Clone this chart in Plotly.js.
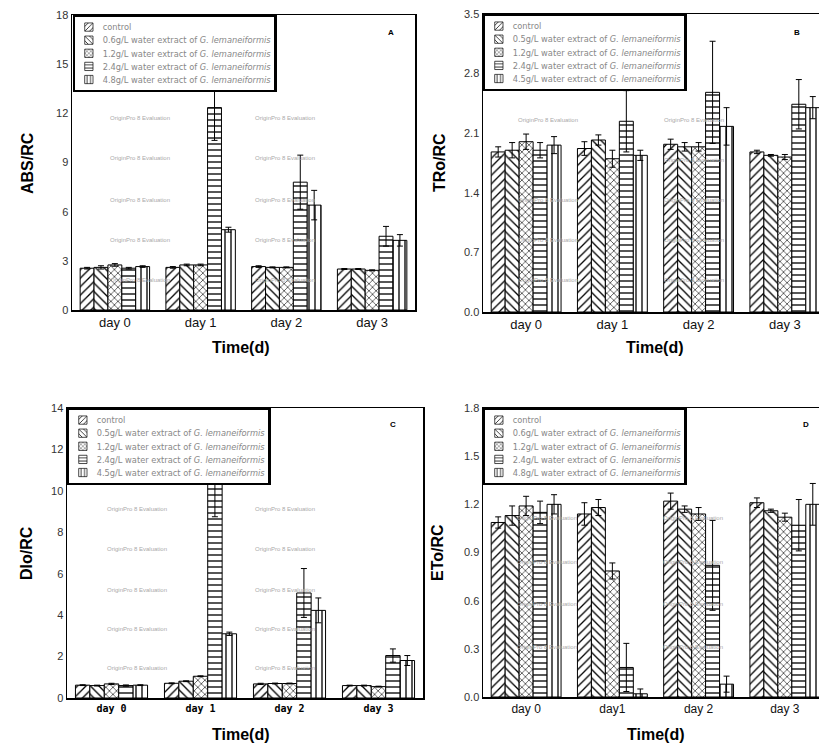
<!DOCTYPE html>
<html>
<head>
<meta charset="utf-8">
<script src="https://cdn.plot.ly/plotly-3.0.1.min.js"></script>
<style>html,body{margin:0;padding:0;background:#fff;}#chart{width:819px;height:749px;}</style>
</head>
<body>
<div id="chart"></div>
<script>
// ---------- categories ----------
const daysA = ['day 0', 'day 1', 'day 2', 'day 3'];
const daysB = ['day 0', 'day 1', 'day 2', 'day 3'];
const daysC = ['day 0', 'day 1', 'day 2', 'day 3'];
const daysD = ['day 0', 'day1', 'day 2', 'day 3'];

// ---------- legend names ----------
const namesAD = ['control',
  '0.6g/L water extract of <i>G. lemaneiformis</i>',
  '1.2g/L water extract of <i>G. lemaneiformis</i>',
  '2.4g/L water extract of <i>G. lemaneiformis</i>',
  '4.8g/L water extract of <i>G. lemaneiformis</i>'];
const namesBC = ['control',
  '0.5g/L water extract of <i>G. lemaneiformis</i>',
  '1.2g/L water extract of <i>G. lemaneiformis</i>',
  '2.4g/L water extract of <i>G. lemaneiformis</i>',
  '4.5g/L water extract of <i>G. lemaneiformis</i>'];

// ---------- A: ABS/RC ----------
const absControl = [2.55, 2.6, 2.65, 2.5];
const absG06 = [2.6, 2.75, 2.6, 2.5];
const absG12 = [2.75, 2.75, 2.6, 2.42];
const absG24 = [2.55, 12.35, 7.8, 4.5];
const absG48 = [2.65, 4.9, 6.4, 4.25];
const absControlErr = [0.05, 0.05, 0.05, 0.03];
const absG06Err = [0.1, 0.05, 0.03, 0.03];
const absG12Err = [0.08, 0.05, 0.03, 0.03];
const absG24Err = [0.05, 2.0, 1.65, 0.6];
const absG48Err = [0.05, 0.15, 0.9, 0.35];

// ---------- B: TRo/RC ----------
const troControl = [1.88, 1.92, 1.97, 1.88];
const troG06 = [1.90, 2.02, 1.94, 1.84];
const troG12 = [2.0, 1.80, 1.94, 1.82];
const troG24 = [1.90, 2.24, 2.58, 2.44];
const troG48 = [1.96, 1.84, 2.18, 2.40];
const troControlErr = [0.06, 0.08, 0.06, 0.02];
const troG06Err = [0.09, 0.06, 0.05, 0.01];
const troG12Err = [0.09, 0.1, 0.05, 0.03];
const troG24Err = [0.09, 0.36, 0.6, 0.29];
const troG48Err = [0.1, 0.06, 0.22, 0.13];

// ---------- C: DIo/RC ----------
const dioControl = [0.62, 0.71, 0.68, 0.6];
const dioG06 = [0.6, 0.81, 0.7, 0.6];
const dioG12 = [0.68, 1.05, 0.7, 0.55];
const dioG24 = [0.6, 10.33, 5.07, 2.05];
const dioG48 = [0.62, 3.1, 4.23, 1.81];
const dioControlErr = [0.02, 0.02, 0.03, 0.02];
const dioG06Err = [0.02, 0.02, 0.02, 0.02];
const dioG12Err = [0.03, 0.02, 0.02, 0.02];
const dioG24Err = [0.03, 1.58, 1.18, 0.32];
const dioG48Err = [0.02, 0.08, 0.6, 0.24];

// ---------- D: ETo/RC ----------
const etoControl = [1.087, 1.14, 1.22, 1.21];
const etoG06 = [1.13, 1.18, 1.17, 1.16];
const etoG12 = [1.19, 0.785, 1.14, 1.12];
const etoG24 = [1.15, 0.184, 0.82, 1.07];
const etoG48 = [1.2, 0.02, 0.08, 1.2];
const etoControlErr = [0.035, 0.07, 0.05, 0.03];
const etoG06Err = [0.06, 0.05, 0.02, 0.01];
const etoG12Err = [0.06, 0.05, 0.04, 0.025];
const etoG24Err = [0.07, 0.15, 0.28, 0.16];
const etoG48Err = [0.06, 0.03, 0.05, 0.13];

// ---------- styling helpers ----------
const shapes = ['/', '\\', 'x', '-', '|'];
const W = 819, H = 749;
function px(x) { return x / W; }
function py(y) { return 1 - y / H; }

const traces = [];
function addPanel(cats, names, series, errs, xa, ya, leg) {
  series.forEach((vals, i) => {
    traces.push({
      type: 'bar',
      x: cats,
      y: vals,
      name: names[i],
      xaxis: xa,
      yaxis: ya,
      legend: leg,
      marker: {
        color: '#ffffff',
        line: {color: '#000000', width: 1},
        pattern: {shape: shapes[i], fgcolor: '#000000', bgcolor: '#ffffff', size: i === 2 ? 5 : 6, solidity: 0.22}
      },
      error_y: {type: 'data', array: errs[i], visible: true, color: '#000000', thickness: 1, width: 3}
    });
  });
}
addPanel(daysA, namesAD, [absControl, absG06, absG12, absG24, absG48],
  [absControlErr, absG06Err, absG12Err, absG24Err, absG48Err], 'x', 'y', 'legend');
addPanel(daysB, namesBC, [troControl, troG06, troG12, troG24, troG48],
  [troControlErr, troG06Err, troG12Err, troG24Err, troG48Err], 'x2', 'y2', 'legend2');
addPanel(daysC, namesBC, [dioControl, dioG06, dioG12, dioG24, dioG48],
  [dioControlErr, dioG06Err, dioG12Err, dioG24Err, dioG48Err], 'x3', 'y3', 'legend3');
addPanel(daysD, namesAD, [etoControl, etoG06, etoG12, etoG24, etoG48],
  [etoControlErr, etoG06Err, etoG12Err, etoG24Err, etoG48Err], 'x4', 'y4', 'legend4');

const fontFam = 'Liberation Sans, Arial, sans-serif';
function xAxis(domain, range, anchor, tickfont) {
  return {domain: domain, range: range, anchor: anchor, showline: true, linecolor: '#000', linewidth: 1.5,
    mirror: true, ticks: '', showgrid: false, zeroline: false, tickfont: tickfont, fixedrange: true};
}
function yAxis(domain, range, dtick, anchor, fmt) {
  return {domain: domain, range: range, dtick: dtick, tick0: 0, anchor: anchor, showline: true, linecolor: '#000',
    linewidth: 1.5, mirror: true, ticks: '', showgrid: false, zeroline: false, tickformat: fmt,
    tickfont: {family: fontFam, size: 11, color: '#333'}, fixedrange: true};
}
const LEG_SCALE = 0.69;
function legendAt(x, y) {
  return {x: px(x), y: py(y), xanchor: 'left', yanchor: 'top', bgcolor: '#ffffff', bordercolor: '#000',
    borderwidth: 3, font: {family: 'DejaVu Sans, sans-serif', size: 12, color: '#888'}, tracegroupgap: 0, itemwidth: 30};
}

const annotations = [];
function txt(x, y, text, opts) {
  annotations.push(Object.assign({xref: 'paper', yref: 'paper', x: px(x), y: py(y), text: text, showarrow: false,
    xanchor: 'center', yanchor: 'middle', font: {family: fontFam, size: 16, color: '#000'}}, opts || {}));
}
// axis titles
txt(28, 163, '<b>ABS/RC</b>', {textangle: -90});
txt(440, 163, '<b>TRo/RC</b>', {textangle: -90});
txt(26, 553, '<b>DIo/RC</b>', {textangle: -90});
txt(437, 553, '<b>ETo/RC</b>', {textangle: -90});
txt(240, 347, '<b>Time(d)</b>');
txt(654, 347, '<b>Time(d)</b>');
txt(240, 734, '<b>Time(d)</b>');
txt(655, 734, '<b>Time(d)</b>');
// panel letters
const lettFont = {family: fontFam, size: 8, color: '#000'};
txt(391, 33, '<b>A</b>', {font: lettFont});
txt(797, 33, '<b>B</b>', {font: lettFont});
txt(393, 424, '<b>C</b>', {font: lettFont});
txt(806, 424, '<b>D</b>', {font: lettFont});
// evaluation watermarks
const wm = 'OriginPro 8 Evaluation';
const wmFont = {family: fontFam, size: 6, color: '#aaaaaa'};
[[140, [118, 158, 200, 240, 280]], [285, [118, 158, 200, 240, 280]],
 [548, [120, 200, 240, 280]], [694, [120, 160, 200, 240, 280]],
 [137, [509, 549, 590, 629, 668]], [285, [509, 549, 590, 629, 668]],
 [547, [518, 562, 604, 647]], [693, [518, 562, 604, 647]]].forEach(([x, ys]) => {
  ys.forEach(y => txt(x, y, wm, {font: wmFont}));
});

const layout = {
  width: W, height: H,
  margin: {l: 0, r: 0, t: 0, b: 0},
  paper_bgcolor: '#fff', plot_bgcolor: '#fff',
  barmode: 'group', bargap: 0.19, bargroupgap: 0,
  showlegend: true,
  font: {family: fontFam},
  xaxis: xAxis([px(72), px(415)], [-0.5, 3.5], 'y', {family: fontFam, size: 13, color: '#111'}),
  yaxis: yAxis([py(310), py(15)], [0, 18], 3, 'x', 'd'),
  xaxis2: xAxis([px(483), 1], [-0.5, 3.396], 'y2', {family: fontFam, size: 13, color: '#111'}),
  yaxis2: yAxis([py(312), py(14)], [0, 3.5], 0.7, 'x2', '.1f'),
  xaxis3: xAxis([px(67), px(423)], [-0.5, 3.5], 'y3', {family: 'DejaVu Sans Mono, monospace', size: 10, color: '#000', weight: 'bold'}),
  yaxis3: yAxis([py(698), py(408)], [0, 14], 2, 'x3', 'd'),
  xaxis4: xAxis([px(483), 1], [-0.5, 3.396], 'y4', {family: fontFam, size: 12, color: '#111'}),
  yaxis4: yAxis([py(697), py(408)], [0, 1.8], 0.3, 'x4', '.1f'),
  legend: legendAt(73, 15),
  legend2: legendAt(483, 14),
  legend3: legendAt(67, 408),
  legend4: legendAt(483, 408),
  annotations: annotations
};

function shrinkLegends(gd) {
  ['legend', 'legend2', 'legend3', 'legend4'].forEach(id => {
    gd.querySelectorAll('g.' + id).forEach(g => {
      const t = g.getAttribute('transform') || '';
      if (t.indexOf('scale') < 0) g.setAttribute('transform', t + ' scale(' + LEG_SCALE + ')');
    });
  });
}
Plotly.newPlot('chart', traces, layout, {displayModeBar: false, staticPlot: true}).then(gd => {
  shrinkLegends(gd);
  gd.on('plotly_afterplot', () => shrinkLegends(gd));
});
</script>
</body>
</html>
